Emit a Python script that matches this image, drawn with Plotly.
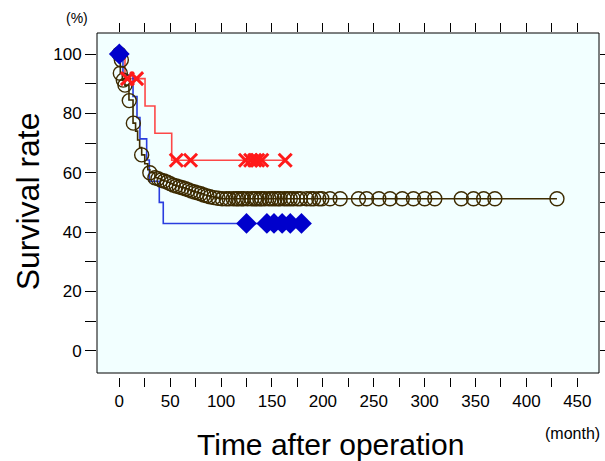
import plotly.graph_objects as go

# ---- data ----
# Brown series (all patients): step-curve vertices
brown_line_time = [0, 0.5, 1, 3, 5.5, 9.5, 13.5, 16, 18, 20, 22, 25, 28, 30, 35, 38, 41, 44, 47, 50,
                   53, 56, 59, 62, 65, 68, 71, 74, 77, 80, 83, 86, 89, 93, 97, 101, 430]
brown_line_surv = [100, 98, 93.5, 91.2, 89.5, 84.5, 76.7, 74, 71, 68.5, 66, 63, 61, 60, 58.3, 58,
                   57.5, 57.2, 56.8, 56.3, 55.8, 55.5, 55.2, 54.9, 54.6, 54.2, 53.8, 53.5, 53.2,
                   52.9, 52.5, 52.2, 51.9, 51.6, 51.4, 51.2, 51.2]
# Brown circles
brown_circ_time = [0, 2, 1, 3.9, 5.6, 9.8, 13.8, 22, 30, 35, 38, 41, 44, 47, 50, 53, 56,
                   59, 62, 65, 68, 71, 74, 77, 80, 83, 86, 89, 93, 97, 101, 105, 108, 112, 115, 117,
                   120, 122, 126, 130, 133, 135, 138, 140, 143, 147, 150, 153, 156, 158, 162, 165,
                   168, 171, 175, 178, 184, 188, 191, 196, 199, 207, 217, 235, 243, 255, 266, 278,
                   289, 300, 310, 336, 348, 358, 369, 430]
brown_circ_surv = [100, 98, 93.5, 91.2, 89.5, 84.3, 76.7, 66, 60, 58.3, 58, 57.5, 57.2,
                   56.8, 56.3, 55.8, 55.5, 55.2, 54.9, 54.6, 54.2, 53.8, 53.5, 53.2, 52.9, 52.5, 52.2,
                   51.9, 51.6, 51.4, 51.2] + [51.2] * 45

# Blue series: step curve + censor diamonds
blue_step_time = [0, 3.6, 13.5, 17.4, 20.3, 26.9, 29.5, 39.3, 43.2, 179]
blue_step_surv = [100, 92.9, 85.7, 78.6, 71.4, 64.3, 57.1, 50.0, 42.9, 42.9]
blue_mark_time = [0, 125, 145, 152, 160, 168, 179]
blue_mark_surv = [100, 42.9, 42.9, 42.9, 42.9, 42.9, 42.9]

# Red series: step curve + censor crosses
red_step_time = [0, 5.6, 25.3, 35, 51.5, 163]
red_step_surv = [100, 91.7, 82.5, 73.3, 64.2, 64.2]
red_mark_time = [8, 17, 56, 70, 124, 129, 133, 136, 140, 163]
red_mark_surv = [91.7, 91.7, 64.2, 64.2, 64.2, 64.2, 64.2, 64.2, 64.2, 64.2]

x_ticks = [0, 50, 100, 150, 200, 250, 300, 350, 400, 450]
y_ticks = [0, 20, 40, 60, 80, 100]

BROWN = "#3d2b00"
BLUE = "#0000cc"
RED = "#ff1a1a"
FONT = "Liberation Sans, Arial, sans-serif"

fig = go.Figure()

fig.add_trace(go.Scatter(
    x=red_step_time, y=red_step_surv, mode="lines", line_shape="hv",
    line=dict(color="rgba(255,40,40,0.85)", width=1.6), showlegend=False, hoverinfo="skip"))
fig.add_trace(go.Scatter(
    x=blue_step_time, y=blue_step_surv, mode="lines", line_shape="hv",
    line=dict(color="rgba(20,40,220,0.9)", width=1.6), showlegend=False, hoverinfo="skip"))
fig.add_trace(go.Scatter(
    x=brown_line_time, y=brown_line_surv, mode="lines", line_shape="hv",
    line=dict(color=BROWN, width=1.6), showlegend=False, hoverinfo="skip"))
fig.add_trace(go.Scatter(
    x=brown_circ_time, y=brown_circ_surv, mode="markers",
    marker=dict(symbol="circle-open", size=14, color=BROWN, line=dict(width=1.4, color=BROWN)),
    showlegend=False))
fig.add_trace(go.Scatter(
    x=blue_mark_time, y=blue_mark_surv, mode="markers",
    marker=dict(symbol="diamond", size=16, color=BLUE, line=dict(width=0)),
    showlegend=False))
fig.add_trace(go.Scatter(
    x=red_mark_time, y=red_mark_surv, mode="markers",
    marker=dict(symbol="x-thin", size=13, color=RED, line=dict(width=3, color=RED)),
    showlegend=False))

# frame + background (bottom edge slightly above the x-axis ticks)
fig.add_shape(type="rect", xref="paper", yref="paper", x0=0, x1=1, y0=4 / 344, y1=1,
              fillcolor="#f2ffff", line=dict(color="black", width=1), layer="below")

fig.update_layout(
    width=605, height=461,
    margin=dict(l=97, r=6, t=33, b=84, autoexpand=False),
    paper_bgcolor="white", plot_bgcolor="white",
    font=dict(family=FONT, color="black"),
    xaxis=dict(range=[-21.9, 471.3], tickvals=x_ticks, ticks="outside", ticklen=9,
               tickwidth=1, tickcolor="black", showgrid=False, zeroline=False,
               showline=False, mirror="ticks", tickfont=dict(size=17), automargin=False,
               minor=dict(dtick=25, tick0=0, ticks="outside", ticklen=9, tickcolor="black")),
    yaxis=dict(range=[-8.86, 107.08], tickvals=y_ticks, ticks="outside", ticklen=11,
               tickwidth=1, tickcolor="black", showgrid=False, zeroline=False,
               showline=False, mirror="ticks", tickfont=dict(size=17), automargin=False,
               minor=dict(dtick=10, tick0=0, ticks="outside", ticklen=11, tickcolor="black")),
    annotations=[
        dict(text="Survival rate", xref="paper", yref="paper", x=-0.138, y=0.51,
             textangle=-90, showarrow=False, font=dict(size=32), xanchor="center", yanchor="middle"),
        dict(text="Time after operation", xref="paper", yref="paper", x=0.465, y=-0.195,
             showarrow=False, font=dict(size=30), xanchor="center", yanchor="middle"),
        dict(text="(%)", xref="paper", yref="paper", x=-0.04, y=1.045,
             showarrow=False, font=dict(size=14), xanchor="center", yanchor="middle"),
        dict(text="(month)", xref="paper", yref="paper", x=1.0, y=-0.165,
             showarrow=False, font=dict(size=16), xanchor="left", yanchor="middle",
             xshift=-56),
    ],
)

fig.write_html("out.html", config={"displayModeBar": False},
               post_script="document.body.style.margin='0';document.body.style.overflow='hidden';")
